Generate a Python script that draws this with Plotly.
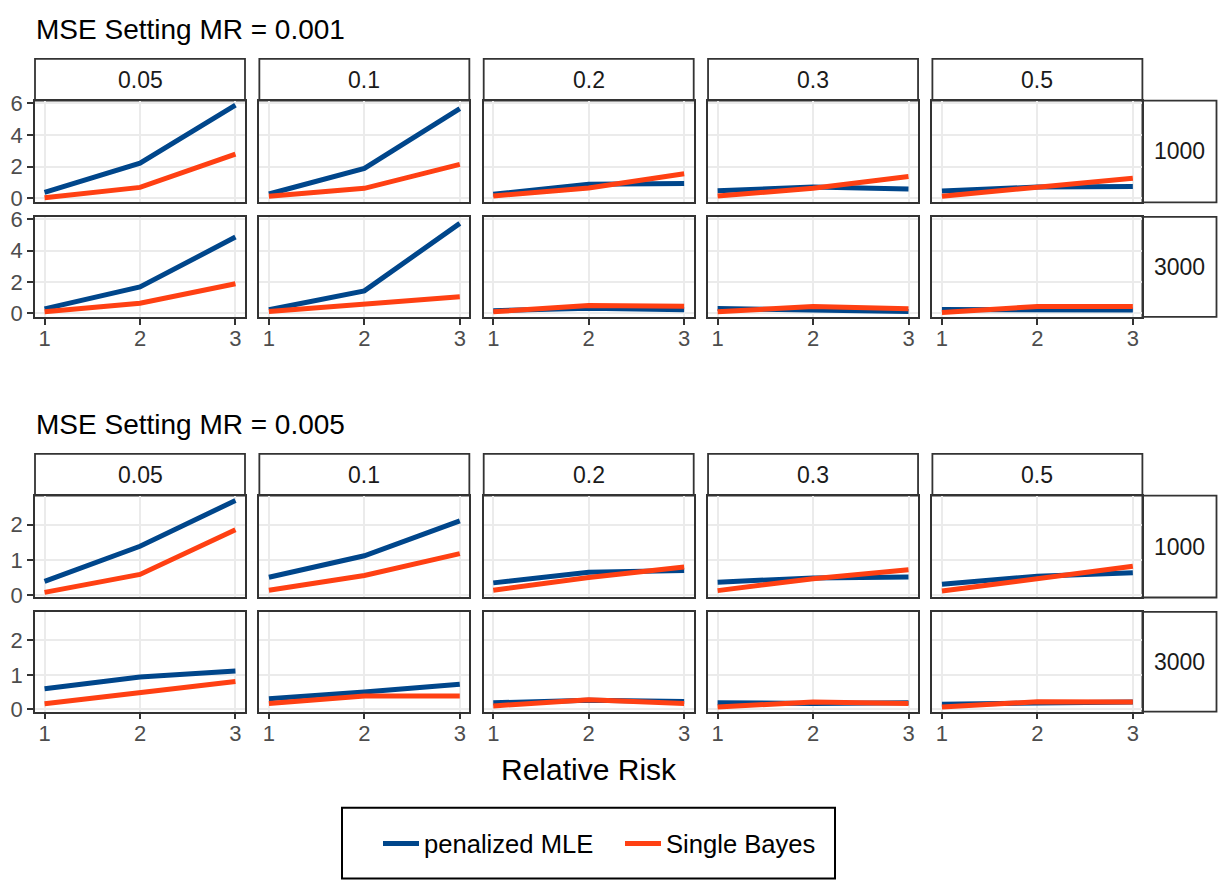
import plotly.graph_objects as go

# ---------------- data ----------------
relative_risk = [1, 2, 3]
prevalence_labels = ["0.05", "0.1", "0.2", "0.3", "0.5"]
sample_sizes = ["1000", "3000"]
series_names = ["penalized MLE", "Single Bayes"]
block_titles = ["MSE Setting MR = 0.001", "MSE Setting MR = 0.005"]
y_ticks_001 = [0, 2, 4, 6]
y_ticks_005 = [0, 1, 2]

# MR = 0.001
mle_001_1000 = [[0.38, 2.22, 5.87], [0.27, 1.89, 5.66], [0.25, 0.88, 0.94], [0.48, 0.71, 0.59], [0.46, 0.71, 0.75]]
bayes_001_1000 = [[0.04, 0.69, 2.79], [0.13, 0.63, 2.14], [0.15, 0.65, 1.55], [0.15, 0.63, 1.38], [0.13, 0.69, 1.26]]
mle_001_3000 = [[0.27, 1.67, 4.87], [0.21, 1.42, 5.75], [0.15, 0.31, 0.21], [0.29, 0.21, 0.10], [0.23, 0.21, 0.19]]
bayes_001_3000 = [[0.08, 0.63, 1.88], [0.10, 0.59, 1.05], [0.08, 0.48, 0.44], [0.08, 0.42, 0.27], [0.04, 0.42, 0.42]]

# MR = 0.005
mle_005_1000 = [[0.39, 1.39, 2.69], [0.51, 1.12, 2.11], [0.35, 0.65, 0.70], [0.37, 0.49, 0.52], [0.31, 0.54, 0.64]]
bayes_005_1000 = [[0.08, 0.59, 1.86], [0.14, 0.56, 1.18], [0.14, 0.50, 0.80], [0.13, 0.47, 0.72], [0.12, 0.47, 0.82]]
mle_005_3000 = [[0.60, 0.94, 1.11], [0.31, 0.50, 0.73], [0.19, 0.26, 0.23], [0.19, 0.17, 0.19], [0.15, 0.19, 0.21]]
bayes_005_3000 = [[0.16, 0.49, 0.81], [0.17, 0.39, 0.39], [0.10, 0.28, 0.17], [0.07, 0.21, 0.17], [0.07, 0.22, 0.21]]

# ---------------- styling / layout ----------------
W, H = 1218, 890
FONT = "Liberation Sans, Arial, Helvetica, sans-serif"
C_MLE = "#00468B"
C_BAYES = "#FF4013"
BORDER = "#333333"
GRID = "#EBEBEB"
LINE_W = 5


def px(x):
    return x / W


def py(y):
    return 1 - y / H


col_x0 = [35 + i * 224.35 for i in range(5)]
col_w = 210.0
right_strip = (1142.4, 1216.5)

blocks = [
    dict(title=block_titles[0], title_y=20, strip=(50, 92.7),
         rows=[(92.7, 196.7), (211.7, 314.0)], yr=[-0.25, 6.16], yt=y_ticks_001,
         data=[(mle_001_1000, bayes_001_1000), (mle_001_3000, bayes_001_3000)]),
    dict(title=block_titles[1], title_y=424, strip=(454, 496.7),
         rows=[(496.7, 601.0), (615.7, 717.7)], yr=[-0.065, 2.83], yt=y_ticks_005,
         data=[(mle_005_1000, bayes_005_1000), (mle_005_3000, bayes_005_3000)]),
]

fig = go.Figure()
layout = {}
shapes = []
annotations = []

for b, blk in enumerate(blocks):
    annotations.append(dict(text=blk["title"], x=px(34), y=py(blk["title_y"]), xref="paper", yref="paper",
                            xanchor="left", yanchor="middle", showarrow=False,
                            font=dict(size=28, color="#000000", family=FONT)))
    s0, s1 = blk["strip"]
    for c in range(5):
        x0 = col_x0[c]
        x1 = x0 + col_w
        shapes.append(dict(type="rect", xref="paper", yref="paper", x0=px(x0), x1=px(x1), y0=py(s1), y1=py(s0),
                           line=dict(color=BORDER, width=1.8), fillcolor="white", layer="below"))
        annotations.append(dict(text=prevalence_labels[c], x=px((x0 + x1) / 2), y=py((s0 + s1) / 2),
                                xref="paper", yref="paper", showarrow=False, xanchor="center", yanchor="middle",
                                font=dict(size=23, color="#1A1A1A", family=FONT)))
    for r in range(2):
        r0, r1 = blk["rows"][r]
        shapes.append(dict(type="rect", xref="paper", yref="paper", x0=px(right_strip[0]), x1=px(right_strip[1]),
                           y0=py(r1), y1=py(r0), line=dict(color=BORDER, width=1.8), fillcolor="white",
                           layer="below"))
        annotations.append(dict(text=sample_sizes[r], x=px(sum(right_strip) / 2), y=py((r0 + r1) / 2),
                                xref="paper", yref="paper", showarrow=False, xanchor="center", yanchor="middle",
                                font=dict(size=23, color="#1A1A1A", family=FONT)))
        mle_rows, bayes_rows = blk["data"][r]
        for c in range(5):
            idx = b * 10 + r * 5 + c + 1
            xname = "xaxis" if idx == 1 else f"xaxis{idx}"
            yname = "yaxis" if idx == 1 else f"yaxis{idx}"
            xref = "x" if idx == 1 else f"x{idx}"
            yref = "y" if idx == 1 else f"y{idx}"
            x0 = col_x0[c]
            x1 = x0 + col_w
            bottom = (r == 1)
            left = (c == 0)
            xa = dict(domain=[px(x0), px(x1)], range=[0.9, 3.1], anchor=yref, tickvals=relative_risk,
                      showgrid=True, gridcolor=GRID, gridwidth=2.2, zeroline=False,
                      showline=True, mirror=True, linecolor=BORDER, linewidth=1.8)
            if bottom:
                xa.update(ticks="outside", ticklen=6, tickwidth=1.8, tickcolor=BORDER, showticklabels=True,
                          ticklabelstandoff=-5,
                          tickfont=dict(size=22, color="#4D4D4D", family=FONT))
            else:
                xa.update(ticks="", showticklabels=False)
            ya = dict(domain=[py(r1), py(r0)], range=blk["yr"], anchor=xref, tickvals=blk["yt"],
                      showgrid=True, gridcolor=GRID, gridwidth=2.2, zeroline=False,
                      showline=True, mirror=True, linecolor=BORDER, linewidth=1.8)
            if left:
                ya.update(ticks="outside", ticklen=6, tickwidth=1.8, tickcolor=BORDER, showticklabels=True,
                          tickfont=dict(size=22, color="#4D4D4D", family=FONT))
            else:
                ya.update(ticks="", showticklabels=False)
            layout[xname] = xa
            layout[yname] = ya
            fig.add_trace(go.Scatter(x=relative_risk, y=mle_rows[c], mode="lines", xaxis=xref, yaxis=yref,
                                     line=dict(color=C_MLE, width=LINE_W), name=series_names[0],
                                     legendgroup="mle", showlegend=(idx == 1)))
            fig.add_trace(go.Scatter(x=relative_risk, y=bayes_rows[c], mode="lines", xaxis=xref, yaxis=yref,
                                     line=dict(color=C_BAYES, width=LINE_W), name=series_names[1],
                                     legendgroup="bayes", showlegend=(idx == 1)))

annotations.append(dict(text="Relative Risk", x=px(588.5), y=py(777), xref="paper", yref="paper",
                        showarrow=False, xanchor="center", yanchor="middle",
                        font=dict(size=30, color="#000000", family=FONT)))

shapes.append(dict(type="rect", xref="paper", yref="paper", x0=px(342), x1=px(835), y0=py(888.5), y1=py(816),
                   line=dict(color="#000000", width=2), fillcolor="rgba(0,0,0,0)", layer="above"))

fig.update_layout(
    width=W, height=H, margin=dict(l=0, r=0, t=0, b=0),
    paper_bgcolor="white", plot_bgcolor="white",
    font=dict(family=FONT),
    shapes=shapes, annotations=annotations,
    legend=dict(orientation="h", x=px(378), xanchor="left", y=py(853), yanchor="middle",
                font=dict(size=25.6, color="#000000", family=FONT), bgcolor="rgba(0,0,0,0)",
                itemwidth=36, entrywidth=191, entrywidthmode="pixels", traceorder="normal"),
    **layout,
)

fig.write_html("out.html")
